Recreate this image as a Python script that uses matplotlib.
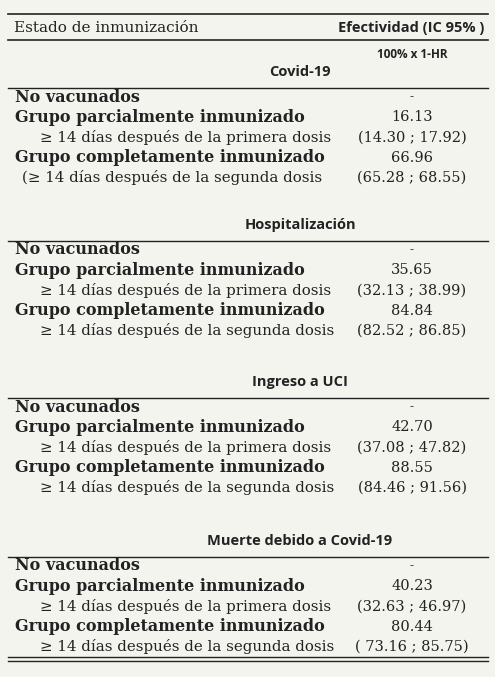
import matplotlib
matplotlib.use("Agg")
import matplotlib.pyplot as plt

sections = ["Covid-19", "Hospitalización", "Ingreso a UCI", "Muerte debido a Covid-19"]
estimates_partial = [16.13, 35.65, 42.70, 40.23]
ci_partial = [(14.30, 17.92), (32.13, 38.99), (37.08, 47.82), (32.63, 46.97)]
estimates_full = [66.96, 84.84, 88.55, 80.44]
ci_full = [(65.28, 68.55), (82.52, 86.85), (84.46, 91.56), (73.16, 85.75)]
section_tops = [72, 225, 382, 541]

fig = plt.figure(figsize=(4.95, 6.77), dpi=100, facecolor="#f4f4ef")
ax = fig.add_axes([0, 0, 1, 1])
ax.set_xlim(0, 495); ax.set_ylim(677, 0); ax.axis("off")
serif = "DejaVu Serif"
sans = "Open Sans"
col = "#222222"
L, R, VX = 8, 488, 412

def hline(y, lw=1.0):
    ax.plot([L, R], [y, y], color=col, lw=lw)

hline(14, 1.2)
ax.text(14, 28, "Estado de inmunización", family=serif, fontsize=11, va="center", color=col)
ax.text(R - 4, 28, "Efectividad (IC 95% )", family=sans, fontsize=10.5, fontweight="bold", ha="right", va="center", color=col)
hline(40, 1.2)
ax.text(VX, 55, "100% x 1-HR", family=sans, fontsize=8.5, fontweight="bold", ha="center", va="center", color=col)

for i, s in enumerate(sections):
    t = section_tops[i]
    ax.text(300, t, s, family=sans, fontsize=10.5, fontweight="bold", ha="center", va="center", color=col)
    hline(t + 16, 1.0)
    rows = [t + 25 + k * 20.2 for k in range(5)]
    ax.text(15, rows[0], "No vacunados", family=serif, fontsize=11.5, fontweight="bold", va="center", color=col)
    ax.text(VX, rows[0], "-", family=serif, fontsize=9, ha="center", va="center", color=col)
    ax.text(15, rows[1], "Grupo parcialmente inmunizado", family=serif, fontsize=11.5, fontweight="bold", va="center", color=col)
    ax.text(VX, rows[1], f"{estimates_partial[i]:.2f}", family=serif, fontsize=10.5, ha="center", va="center", color=col)
    ax.text(40, rows[2], "≥ 14 días después de la primera dosis", family=serif, fontsize=10.8, va="center", color=col)
    lo, hi = ci_partial[i]
    ax.text(VX, rows[2], f"({lo:.2f} ; {hi:.2f})", family=serif, fontsize=10.5, ha="center", va="center", color=col)
    ax.text(15, rows[3], "Grupo completamente inmunizado", family=serif, fontsize=11.5, fontweight="bold", va="center", color=col)
    ax.text(VX, rows[3], f"{estimates_full[i]:.2f}", family=serif, fontsize=10.5, ha="center", va="center", color=col)
    lab = "(≥ 14 días después de la segunda dosis" if i == 0 else "≥ 14 días después de la segunda dosis"
    ax.text(22 if i == 0 else 40, rows[4], lab, family=serif, fontsize=10.8, va="center", color=col)
    lo, hi = ci_full[i]
    pre = "( " if i == 3 else "("
    ax.text(VX, rows[4], f"{pre}{lo:.2f} ; {hi:.2f})", family=serif, fontsize=10.5, ha="center", va="center", color=col)

hline(657, 1.0)
hline(661, 1.0)
fig.savefig("out.png", dpi=100, facecolor=fig.get_facecolor())
